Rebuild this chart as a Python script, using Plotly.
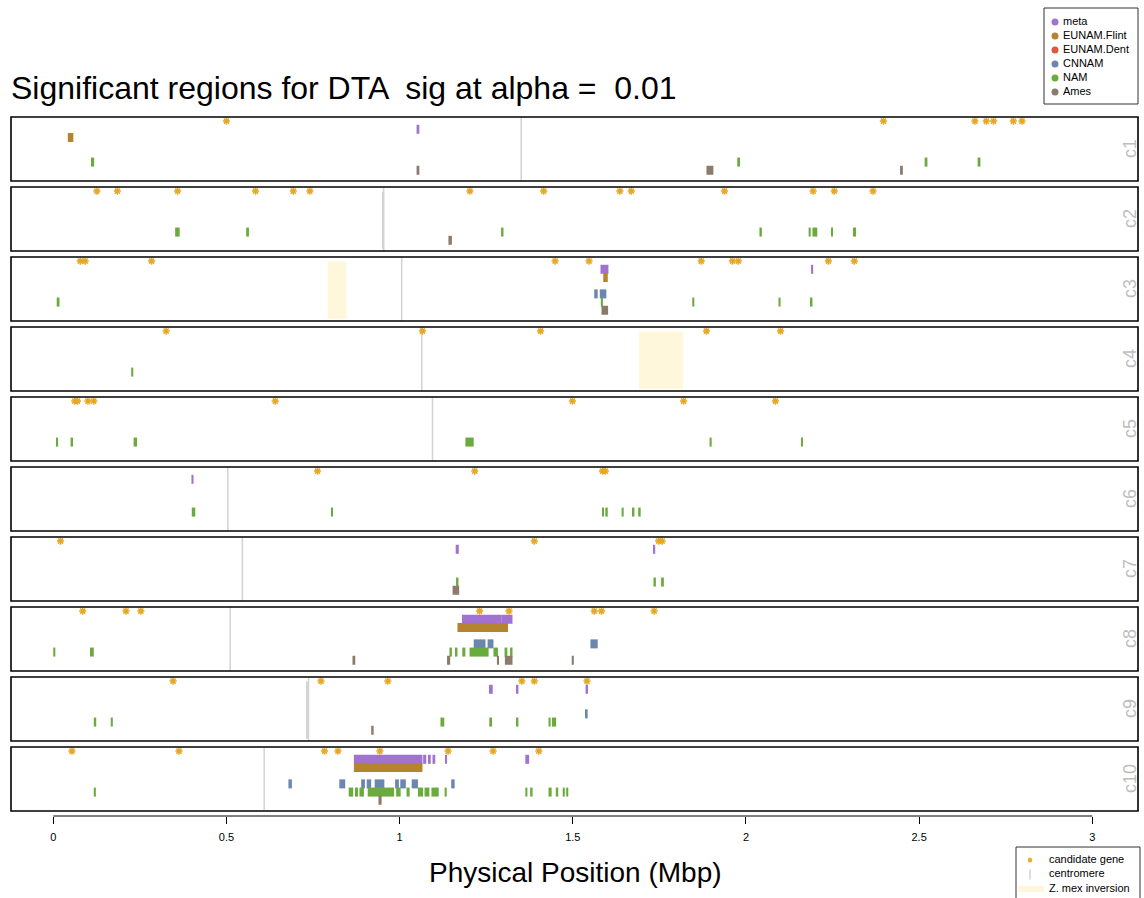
import plotly.graph_objects as go

# ---------------- data ----------------
chromosomes = ["c1", "c2", "c3", "c4", "c5", "c6", "c7", "c8", "c9", "c10"]
series_names = ["meta", "EUNAM.Flint", "EUNAM.Dent", "CNNAM", "NAM", "Ames"]
series_colors = ["#A073CF", "#B5842F", "#DE5840", "#6B87B0", "#6BAA3D", "#8C7B6B"]
series_rows = [6, 5, 4, 3, 2, 1]
star_row = 7
tick_vals = [0, 0.5, 1, 1.5, 2, 2.5, 3]
tick_text = ["0", "0.5", "1", "1.5", "2", "2.5", "3"]

# significant regions (start, end) in Mbp, per chromosome index (1..10)
meta = {
    1: [(1.049, 1.057)],
    3: [(1.580, 1.603), (2.188, 2.194)],
    6: [(0.399, 0.405)],
    7: [(1.162, 1.171), (1.733, 1.738)],
    8: [(1.180, 1.295), (1.295, 1.326)],
    9: [(1.258, 1.269), (1.336, 1.343), (1.537, 1.544)],
    10: [(0.868, 1.066), (1.068, 1.077), (1.082, 1.090), (1.095, 1.103),
         (1.131, 1.137), (1.363, 1.374)],
}
eunam_flint = {
    1: [(0.042, 0.058)],
    3: [(1.588, 1.601)],
    8: [(1.167, 1.313)],
    10: [(0.868, 1.066)],
}
eunam_dent = {}
cnnam = {
    3: [(1.562, 1.572), (1.578, 1.597)],
    8: [(1.214, 1.248), (1.254, 1.271), (1.551, 1.572)],
    9: [(1.538, 1.543)],
    10: [(0.679, 0.689), (0.826, 0.843), (0.889, 0.900), (0.905, 0.918),
         (0.928, 0.956), (0.987, 0.998), (1.002, 1.018), (1.035, 1.053),
         (1.149, 1.159)],
}
nam = {
    1: [(0.109, 0.118), (1.975, 1.983), (2.516, 2.524), (2.669, 2.677)],
    2: [(0.352, 0.365), (0.557, 0.565), (1.293, 1.300), (2.039, 2.046),
        (2.181, 2.187), (2.192, 2.206), (2.246, 2.250), (2.309, 2.318)],
    3: [(0.010, 0.018), (1.581, 1.587), (1.845, 1.851), (2.094, 2.100),
        (2.185, 2.192)],
    4: [(0.225, 0.231)],
    5: [(0.008, 0.014), (0.050, 0.057), (0.232, 0.242), (1.190, 1.214),
        (1.895, 1.901), (2.159, 2.164)],
    6: [(0.400, 0.410), (0.802, 0.808), (1.585, 1.590), (1.594, 1.601),
        (1.641, 1.647), (1.671, 1.678), (1.689, 1.696)],
    7: [(1.163, 1.170), (1.733, 1.740), (1.755, 1.763)],
    8: [(0.000, 0.006), (0.106, 0.117), (1.144, 1.151), (1.160, 1.167),
        (1.181, 1.190), (1.202, 1.257), (1.271, 1.284), (1.303, 1.311),
        (1.319, 1.326)],
    9: [(0.117, 0.124), (0.166, 0.172), (1.118, 1.129), (1.259, 1.267),
        (1.336, 1.343), (1.430, 1.436), (1.440, 1.452)],
    10: [(0.117, 0.123), (0.853, 0.866), (0.871, 0.880), (0.884, 0.897),
         (0.908, 0.984), (0.990, 1.003), (1.020, 1.029), (1.053, 1.068),
         (1.072, 1.086), (1.092, 1.113), (1.130, 1.136), (1.363, 1.369),
         (1.377, 1.384), (1.430, 1.439), (1.451, 1.458), (1.471, 1.477),
         (1.481, 1.487)],
}
ames = {
    1: [(1.049, 1.057), (1.886, 1.906), (2.445, 2.453)],
    2: [(1.141, 1.151)],
    3: [(1.583, 1.602)],
    7: [(1.153, 1.172)],
    8: [(0.864, 0.872), (1.137, 1.146), (1.281, 1.287), (1.304, 1.326),
        (1.497, 1.503)],
    9: [(0.918, 0.925)],
    10: [(0.939, 0.948)],
}
candidate_genes = {
    1: [0.500, 2.397, 2.661, 2.694, 2.715, 2.772, 2.797],
    2: [0.126, 0.185, 0.359, 0.584, 0.693, 0.741, 1.203, 1.416, 1.636, 1.669,
        1.938, 2.194, 2.255, 2.367],
    3: [0.078, 0.092, 0.284, 1.449, 1.547, 1.871, 1.961, 1.978, 2.238, 2.313],
    4: [0.326, 1.066, 1.407, 1.886, 2.100],
    5: [0.062, 0.070, 0.100, 0.117, 0.641, 1.499, 1.820, 2.085],
    6: [0.763, 1.217, 1.586, 1.594],
    7: [0.021, 1.389, 1.748, 1.758],
    8: [0.085, 0.210, 0.253, 1.231, 1.316, 1.562, 1.583, 1.735],
    9: [0.346, 0.773, 0.966, 1.353, 1.389, 1.541],
    10: [0.054, 0.363, 0.783, 0.822, 0.943, 1.140, 1.270, 1.402],
}
centromeres = [1.351, 0.954, 1.006, 1.064, 1.095, 0.504, 0.546, 0.511, 0.737, 0.609]
centromere_bands = {2: (0.949, 0.953), 9: (0.730, 0.737)}
inversions = {3: (0.792, 0.847), 4: (1.691, 1.818)}

series_regions = [meta, eunam_flint, eunam_dent, cnnam, nam, ames]

# ---------------- layout helpers ----------------
W, H = 1144, 898
PANEL_TOP0, PANEL_H, PANEL_PITCH = 117, 64, 70
X_LEFT, X_RIGHT = 11, 1138
XRANGE = [-0.122, 3.132]
YRANGE = [-0.31, 7.5]
BAND_Y = (-0.05, 6.95)
BAR_W = 1.1
FONT = "Liberation Sans, Arial, Helvetica, sans-serif"
STAR_COLOR = "#E6A825"
CEN_COLOR = "#D3D3D3"
INV_COLOR = "#FFF7DC"


def px_x(p):
    return p / W


def px_y(p):
    return 1 - p / H


def ax_ids(n):
    s = "" if n == 1 else str(n)
    return "x" + s, "y" + s, "xaxis" + s, "yaxis" + s


fig = go.Figure()
layout = dict(
    width=W, height=H, margin=dict(l=0, r=0, t=0, b=0),
    plot_bgcolor="white", paper_bgcolor="white",
    showlegend=False, hovermode=False, barmode="overlay",
    font=dict(family=FONT, color="black"),
)
shapes = []
annotations = []

for i, chrom in enumerate(chromosomes, start=1):
    xa, ya, xk, yk = ax_ids(i)
    top = PANEL_TOP0 + PANEL_PITCH * (i - 1)
    layout[xk] = dict(domain=[px_x(X_LEFT), px_x(X_RIGHT)], range=XRANGE,
                      visible=False, anchor=ya)
    layout[yk] = dict(domain=[px_y(top + PANEL_H), px_y(top)], range=YRANGE,
                      visible=False, anchor=xa)

    # inversion
    if i in inversions:
        s, e = inversions[i]
        fig.add_trace(go.Scatter(x=[s, e, e, s, s], y=[BAND_Y[0], BAND_Y[0], BAND_Y[1], BAND_Y[1], BAND_Y[0]],
                                 fill="toself", fillcolor=INV_COLOR, mode="none",
                                 xaxis=xa, yaxis=ya, hoverinfo="skip"))
    # centromere
    if i in centromere_bands:
        s, e = centromere_bands[i]
        fig.add_trace(go.Scatter(x=[s, e, e, s, s], y=[BAND_Y[0], BAND_Y[0], BAND_Y[1], BAND_Y[1], BAND_Y[0]],
                                 fill="toself", fillcolor=CEN_COLOR, mode="none",
                                 xaxis=xa, yaxis=ya, hoverinfo="skip"))
    c = centromeres[i - 1]
    fig.add_trace(go.Scatter(x=[c, c], y=YRANGE, mode="lines",
                             line=dict(color=CEN_COLOR, width=1.5),
                             xaxis=xa, yaxis=ya, hoverinfo="skip"))

    # regions
    for name, col, row, reg in zip(series_names, series_colors, series_rows, series_regions):
        segs = reg.get(i, [])
        if not segs:
            continue
        fig.add_trace(go.Bar(orientation="h",
                             y=[row] * len(segs),
                             x=[e - s for s, e in segs],
                             base=[s for s, e in segs],
                             width=BAR_W,
                             marker=dict(color=col, line=dict(width=0)),
                             xaxis=xa, yaxis=ya, hoverinfo="skip"))

    # candidate genes
    g = candidate_genes.get(i, [])
    if g:
        fig.add_trace(go.Scatter(x=g, y=[star_row] * len(g), mode="markers",
                                 marker=dict(symbol="asterisk-open", size=6, color=STAR_COLOR,
                                             line=dict(color=STAR_COLOR, width=1.5)),
                                 xaxis=xa, yaxis=ya, hoverinfo="skip"))

    # panel frame
    shapes.append(dict(type="rect", xref=f"{xa} domain", yref=f"{ya} domain",
                       x0=0, x1=1, y0=0, y1=1, line=dict(color="black", width=1.6),
                       layer="above"))
    # chromosome label
    annotations.append(dict(x=px_x(1130), y=px_y(top + PANEL_H / 2), xref="paper", yref="paper",
                            text=chrom, showarrow=False, textangle=-90,
                            font=dict(size=18, color="#BEBEBE", family=FONT),
                            xanchor="center", yanchor="middle"))

# bottom axis
AX_Y = 816
layout["xaxis11"] = dict(domain=[px_x(X_LEFT), px_x(X_RIGHT)], range=XRANGE, anchor="y11",
                         tickvals=tick_vals, ticktext=tick_text, ticks="outside",
                         ticklen=7, tickwidth=1, tickcolor="black", showline=False,
                         showgrid=False, zeroline=False, tickfont=dict(size=11, color="black"),
                         ticklabelstandoff=4)
layout["yaxis11"] = dict(domain=[px_y(AX_Y), px_y(AX_Y - 6)], range=[0, 1], visible=False,
                         anchor="x11")
fig.add_trace(go.Scatter(x=[0], y=[0.5], mode="markers", marker=dict(opacity=0),
                         xaxis="x11", yaxis="y11", hoverinfo="skip"))
shapes.append(dict(type="line", xref="x11", yref="paper", x0=tick_vals[0], x1=tick_vals[-1],
                   y0=px_y(AX_Y), y1=px_y(AX_Y), line=dict(color="black", width=1)))

# top legend (series)
LG_L, LG_R, LG_T, LG_B = 1044, 1138, 8, 104
layout["xaxis12"] = dict(domain=[px_x(LG_L), px_x(LG_R)], range=[0, LG_R - LG_L],
                         visible=False, anchor="y12")
layout["yaxis12"] = dict(domain=[px_y(LG_B), px_y(LG_T)], range=[5.857, -1],
                         visible=False, anchor="x12")
idx = list(range(len(series_names)))
fig.add_trace(go.Scatter(x=[11] * len(idx), y=idx, mode="markers",
                         marker=dict(color=series_colors, size=7),
                         xaxis="x12", yaxis="y12", hoverinfo="skip"))
fig.add_trace(go.Scatter(x=[19] * len(idx), y=idx, mode="text", text=series_names,
                         textposition="middle right", textfont=dict(size=11, color="black"),
                         xaxis="x12", yaxis="y12", hoverinfo="skip"))
shapes.append(dict(type="rect", xref="paper", yref="paper", x0=px_x(LG_L), x1=px_x(LG_R),
                   y0=px_y(LG_B), y1=px_y(LG_T), line=dict(color="#333333", width=1)))

# bottom legend
BL_L, BL_R, BL_T = 1016, 1140, 847
layout["xaxis13"] = dict(domain=[px_x(BL_L), px_x(BL_R)], range=[0, BL_R - BL_L],
                         visible=False, anchor="y13")
layout["yaxis13"] = dict(domain=[0, px_y(BL_T)], range=[2.62, -0.897],
                         visible=False, anchor="x13")
bottom_labels = ["candidate gene", "centromere", "Z. mex inversion"]
fig.add_trace(go.Scatter(x=[14], y=[0], mode="markers",
                         marker=dict(symbol="asterisk-open", size=4, color=STAR_COLOR,
                                     line=dict(color=STAR_COLOR, width=1.2)),
                         xaxis="x13", yaxis="y13", hoverinfo="skip"))
fig.add_trace(go.Scatter(x=[14, 14], y=[0.65, 1.35], mode="lines",
                         line=dict(color=CEN_COLOR, width=1.5),
                         xaxis="x13", yaxis="y13", hoverinfo="skip"))
fig.add_trace(go.Scatter(x=[2, 28], y=[2, 2], mode="lines",
                         line=dict(color=INV_COLOR, width=6),
                         xaxis="x13", yaxis="y13", hoverinfo="skip"))
fig.add_trace(go.Scatter(x=[33] * 3, y=[0, 1, 2], mode="text", text=bottom_labels,
                         textposition="middle right", textfont=dict(size=11, color="black"),
                         xaxis="x13", yaxis="y13", hoverinfo="skip"))
shapes.append(dict(type="rect", xref="paper", yref="paper", x0=px_x(BL_L), x1=px_x(BL_R),
                   y0=px_y(910), y1=px_y(BL_T), line=dict(color="#333333", width=1)))

# titles
annotations.append(dict(x=px_x(9), y=px_y(88), xref="paper", yref="paper",
                        text="Significant regions for DTA  sig at alpha =  0.01",
                        showarrow=False, xanchor="left", yanchor="middle",
                        font=dict(size=32, color="black", family=FONT)))
annotations.append(dict(x=px_x(575), y=px_y(872), xref="paper", yref="paper",
                        text="Physical Position (Mbp)", showarrow=False,
                        xanchor="center", yanchor="middle",
                        font=dict(size=28, color="black", family=FONT)))

layout["shapes"] = shapes
layout["annotations"] = annotations
fig.update_layout(**layout)
fig.write_html("out.html")
